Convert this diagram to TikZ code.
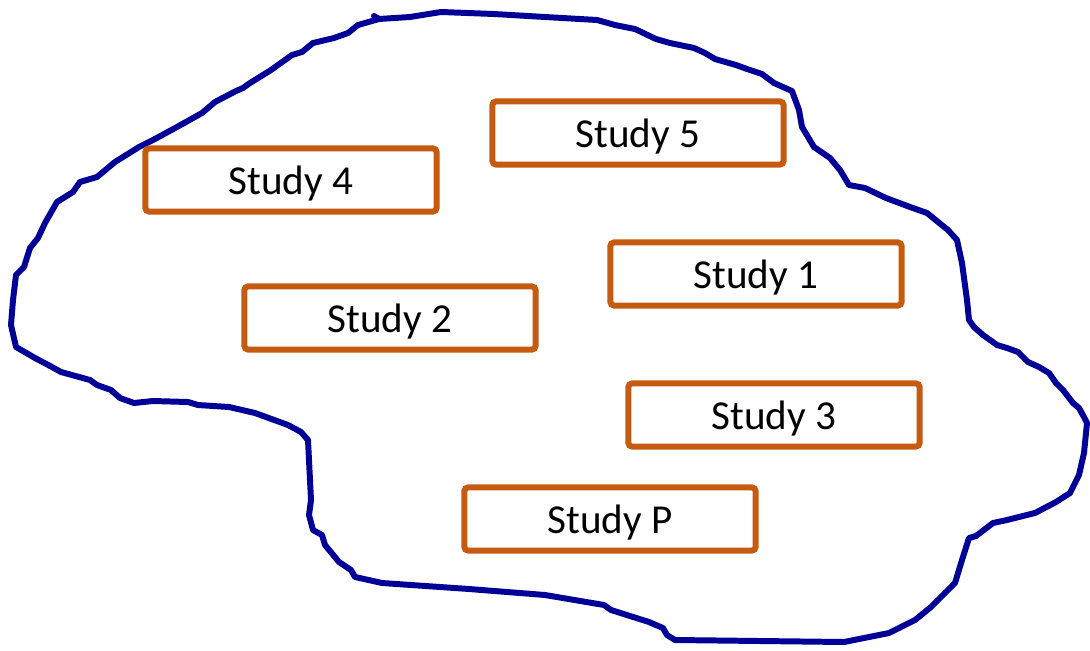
\documentclass[tikz,border=0pt]{standalone}
\usepackage{fontspec}
\setmainfont{Carlito}
\usetikzlibrary{positioning}
\definecolor{blobblue}{RGB}{0,0,150}
\definecolor{studyorange}{RGB}{197,90,17}
\tikzstyle{study} = [rectangle,
rounded corners=1pt,
minimum width=2.91cm,
minimum height=0.63cm,
text centered,
text depth=0pt,
fill=white,
line width=1.7pt,
font=\fontsize{11.7}{13}\selectfont,
draw=studyorange]
\tikzstyle{blob} = [draw=blobblue, line width=1.7pt, line join=round, line cap=round]

\begin{document}
\begin{tikzpicture}[x=0.01cm, y=-0.01cm]
\useasboundingbox (0,0) rectangle (1090,651);

% the hand drawn outline
\draw [blob] (358,25) -- (379,19) -- (410,17) -- (441,12) -- (494,14) -- (545,17)
  -- (597,20) -- (615,25) -- (635,29) -- (656,39) -- (670,43) -- (694,48)
  -- (705,53) -- (715,59) -- (736,65) -- (747,69) -- (762,74) -- (774,83)
  -- (792,91) -- (799,110) -- (802,127) -- (814,147) -- (830,158) -- (840,170)
  -- (849,185) -- (865,188) -- (886,198) -- (910,207) -- (927,213) -- (948,230)
  -- (957,240) -- (962,263) -- (967,300) -- (969,320) -- (974,327) -- (983,335)
  -- (997,345) -- (1007,348) -- (1018,352) -- (1028,362) -- (1039,367)
  -- (1049,373) -- (1056,383) -- (1063,390) -- (1073,403) -- (1079,408)
  -- (1084,417) -- (1087,423) -- (1084,453) -- (1079,475) -- (1070,493)
  -- (1056,502) -- (1035,513) -- (1007,520) -- (993,523) -- (976,536)
  -- (969,538) -- (962,560) -- (955,583) -- (931,607) -- (915,620)
  -- (889,633) -- (844,642) -- (675,640) -- (667,635) -- (663,628)
  -- (649,622) -- (611,610) -- (604,605) -- (545,595) -- (469,589)
  -- (382,583) -- (355,577) -- (351,570) -- (339,562) -- (325,545)
  -- (322,535) -- (313,530) -- (309,515) -- (311,500) -- (308,440)
  -- (301,432) -- (288,425) -- (255,413) -- (229,407) -- (198,405)
  -- (188,402) -- (153,401) -- (134,403) -- (120,398) -- (111,390)
  -- (97,385) -- (90,380) -- (61,372) -- (52,367) -- (35,358) -- (16,347)
  -- (11,325) -- (13,300) -- (16,275) -- (24,267) -- (30,248) -- (38,238)
  -- (45,223) -- (57,202) -- (73,192) -- (80,182) -- (97,177) -- (115,162)
  -- (139,147) -- (153,140) -- (177,127) -- (202,113) -- (215,102)
  -- (236,91) -- (243,88) -- (250,83) -- (271,70) -- (292,55) -- (302,52)
  -- (313,43) -- (334,38) -- (348,33) -- cycle;
\draw [blob] (374,16) -- (379,19);

\node (study_five) [study] at (638,133) {Study 5};
\node (study_four) [study] at (291,180) {Study 4};
\node (study_one) [study] at (756,274) {Study 1};
\node (study_two) [study] at (390,318) {Study 2};
\node (study_three) [study] at (774,415) {Study 3};
\node (study_p) [study] at (610,519) {Study P};

\end{tikzpicture}
\end{document}
